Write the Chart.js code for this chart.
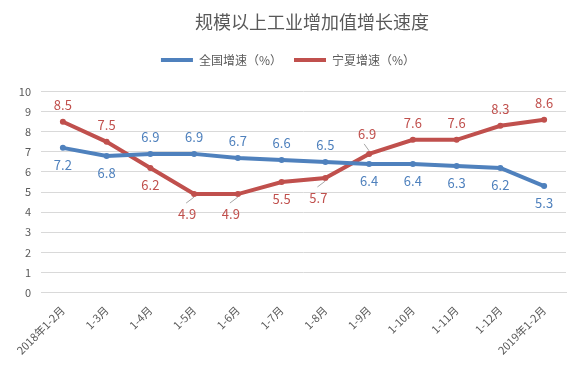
<!DOCTYPE html>
<html><head><meta charset="utf-8">
<script src="https://cdn.jsdelivr.net/npm/chart.js@4"></script>
<style>html,body{margin:0;padding:0;background:#fff}#w{width:578px;height:366px}</style>
</head><body><div id="w"><canvas id="c"></canvas></div>
<script>
const categories = ["2018年1-2月","1-3月","1-4月","1-5月","1-6月","1-7月","1-8月","1-9月","1-10月","1-11月","1-12月","2019年1-2月"];
const nationalValues = [7.2,6.8,6.9,6.9,6.7,6.6,6.5,6.4,6.4,6.3,6.2,5.3];
const ningxiaValues = [8.5,7.5,6.2,4.9,4.9,5.5,5.7,6.9,7.6,7.6,8.3,8.6];
const yTicks = [0,1,2,3,4,5,6,7,8,9,10];
const chartTitle = "规模以上工业增加值增长速度";
const nationalLabelSide = ["b","b","a","a","a","a","a","b","b","b","b","b"];
const ningxiaLabelSide = ["a","a","b","b","b","b","b","a","a","a","a","a"];
const ningxiaLeader = [false,false,false,true,true,false,true,true,false,false,false,false];

const BLUE = "#4F81BD", RED = "#C0504D", TXT = "#595959";
const FONT = "'Noto Sans CJK SC','Noto Sans',sans-serif";

const labelPlugin = {
  id: "dl",
  afterDraw(chart) {
    const ctx = chart.ctx;
    ctx.save();
    ctx.font = "18px " + FONT;
    ctx.fillStyle = TXT;
    ctx.textAlign = "center";
    ctx.textBaseline = "middle";
    ctx.fillText(chartTitle, chart.width * 0.54, 22);
    ctx.restore();
  },
  afterDatasetsDraw(chart) {
    const ctx = chart.ctx;
    ctx.save();
    ctx.font = "13px " + FONT;
    ctx.textAlign = "center";
    ctx.textBaseline = "middle";
    chart.data.datasets.forEach((ds, di) => {
      const meta = chart.getDatasetMeta(di);
      const sides = di === 0 ? nationalLabelSide : ningxiaLabelSide;
      meta.data.forEach((pt, i) => {
        const above = sides[i] === "a";
        const leader = di === 1 && ningxiaLeader[i];
        const off = leader ? 20 : 17;
        const dx = leader ? (above ? -2 : -7) : 0;
        const y = pt.y + (above ? -off : off);
        if (leader) {
          ctx.strokeStyle = "#A6A6A6";
          ctx.lineWidth = 1;
          ctx.beginPath();
          if (above) { ctx.moveTo(pt.x, pt.y - 3); ctx.lineTo(pt.x - 5, pt.y - 10); }
          else { ctx.moveTo(pt.x, pt.y + 3); ctx.lineTo(pt.x - 8, pt.y + 9); }
          ctx.stroke();
        }
        ctx.fillStyle = ds.borderColor;
        ctx.fillText(ds.data[i].toFixed(1), pt.x + dx, y);
      });
    });
    ctx.restore();
  }
};

new Chart(document.getElementById("c"), {
  type: "line",
  data: {
    labels: categories,
    datasets: [
      { label: "全国增速（%）", data: nationalValues, borderColor: BLUE, backgroundColor: BLUE,
        borderWidth: 4, pointRadius: 3, pointBorderWidth: 0, pointHoverRadius: 3, tension: 0 },
      { label: "宁夏增速（%）", data: ningxiaValues, borderColor: RED, backgroundColor: RED,
        borderWidth: 4, pointRadius: 3, pointBorderWidth: 0, pointHoverRadius: 3, tension: 0 }
    ]
  },
  options: {
    responsive: true, maintainAspectRatio: false, animation: false,
    layout: { padding: { left: 10, right: 12, top: 42, bottom: 6 } },
    plugins: {
      title: { display: true, text: "", weight: 500, padding: 0, font: { size: 13 } },
      legend: { display: true, labels: { color: TXT, font: { family: FONT, size: 12 },
        boxWidth: 32, boxHeight: 4, padding: 12,
        generateLabels(chart) {
          return chart.data.datasets.map((d, i) => ({ text: d.label, fillStyle: d.borderColor,
            strokeStyle: d.borderColor, lineWidth: 0, fontColor: TXT, datasetIndex: i }));
        } } },
      tooltip: { enabled: false }
    },
    scales: {
      x: { offset: true, grid: { display: false }, border: { color: "#D9D9D9" },
        afterFit(s) { s.paddingLeft = 0; s.paddingRight = 10; },
        ticks: { color: TXT, font: { family: FONT, size: 11 }, maxRotation: 45, minRotation: 45, autoSkip: false } },
      y: { min: 0, max: 10, grid: { color: "#D9D9D9", drawTicks: false }, border: { display: false },
        afterFit(s) { s.width = 31; },
        afterBuildTicks(axis) { axis.ticks = yTicks.map(v => ({ value: v })); },
        ticks: { color: TXT, font: { family: FONT, size: 11 }, padding: 10 } }
    }
  },
  plugins: [labelPlugin]
});
</script>
</body></html>
